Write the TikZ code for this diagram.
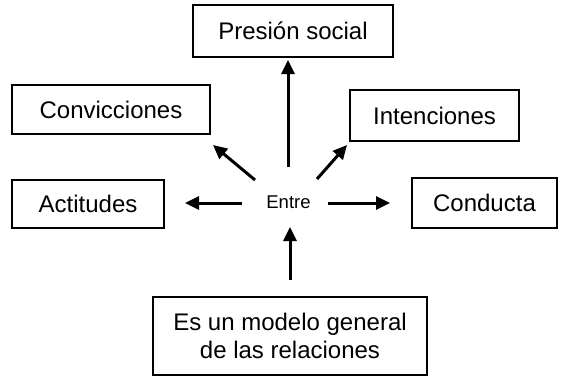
\documentclass[tikz,border=0pt]{standalone}
\usepackage{fontspec}
\setmainfont{Liberation Sans}
\usetikzlibrary{arrows.meta}
\tikzset{
  box/.style={draw=black, line width=1.8pt, fill=white, inner sep=0pt, align=center,
    font=\fontsize{24}{28}\selectfont},
  arr/.style={line width=3pt, -{Triangle[length=14pt,width=13pt]}}
}
\begin{document}
\begin{tikzpicture}[x=1pt,y=-1pt]
\useasboundingbox[fill=white] (0,0) rectangle (565,383);
\node[box, minimum width=200pt, minimum height=52pt] (pres) at (293,31) {Presión social};
\node[box, minimum width=198pt, minimum height=49pt] (conv) at (111,109.5) {Convicciones};
\node[box, minimum width=169pt, minimum height=51pt] (intn) at (434.5,115.5) {Intenciones};
\node[box, minimum width=152pt, minimum height=48pt] (acti) at (88,204) {Actitudes};
\node[box, minimum width=145pt, minimum height=50pt] (cond) at (484.5,203) {Conducta};
\node[box, minimum width=274pt, minimum height=78pt] (model) at (290,336) {Es un modelo general\\de las relaciones};
\node[font=\fontsize{18.5}{22}\selectfont, inner sep=0pt] (entre) at (288.5,202) {Entre};
\coordinate (uA) at (288,167); \coordinate (uB) at (288,60);
\coordinate (nwA) at (255,180); \coordinate (nwB) at (213,145);
\coordinate (neA) at (317,179); \coordinate (neB) at (347,145);
\coordinate (wA) at (242,203); \coordinate (wB) at (185,203);
\coordinate (eA) at (328,203); \coordinate (eB) at (390,203);
\coordinate (sA) at (290,280); \coordinate (sB) at (290,227);
\draw[arr] (uA) -- (uB);
\draw[arr] (nwA) -- (nwB);
\draw[arr] (neA) -- (neB);
\draw[arr] (wA) -- (wB);
\draw[arr] (eA) -- (eB);
\draw[arr] (sA) -- (sB);
\end{tikzpicture}
\end{document}
